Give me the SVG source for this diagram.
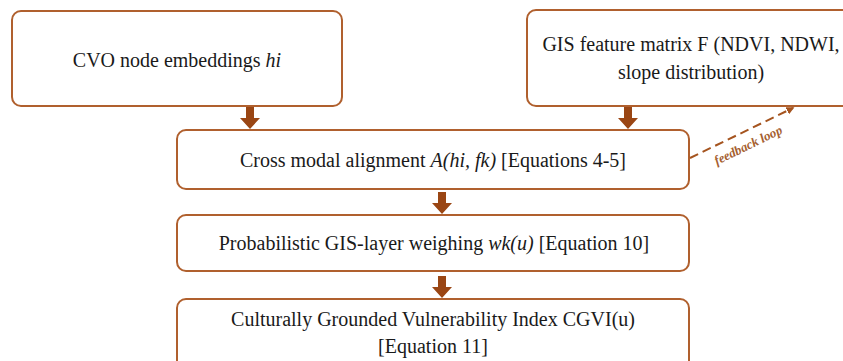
<svg xmlns="http://www.w3.org/2000/svg" width="843" height="361" viewBox="0 0 843 361">
  <style>
    .box { fill: #ffffff; stroke: #b0602e; stroke-width: 2; }
    .lbl { font-family: 'Liberation Serif', 'Times New Roman', serif; font-size: 20px; fill: #1a1a1a; text-anchor: middle; }
    .it { font-style: italic; }
    .flow { fill: #9a4614; }
    .fb { fill: none; stroke: #a5541f; stroke-width: 2; stroke-dasharray: 9 5; }
    .fbtxt { font-family: 'Liberation Serif', 'Times New Roman', serif; font-size: 13px; font-style: italic; font-weight: bold; fill: #a5602f; text-anchor: middle; }
  </style>
  <defs>
    <!-- block arrow pointing down, tip at origin -->
    <path id="down" d="M -4 -22 H 4 V -11 H 10 L 0 0 L -10 -11 H -4 Z"/>
    <marker id="tip" viewBox="0 0 10 10" refX="8" refY="5" markerWidth="4" markerHeight="4" orient="auto" markerUnits="strokeWidth">
      <path d="M 0 0 L 10 5 L 0 10 Z" fill="#a5541f"/>
    </marker>
  </defs>
  <rect width="843" height="361" fill="#ffffff"/>

  <g id="cvo">
    <rect class="box" x="12" y="11" width="330" height="95" rx="9"/>
    <text class="lbl" x="177" y="67">CVO node embeddings <tspan class="it">hi</tspan></text>
  </g>

  <g id="gis">
    <rect class="box" x="527" y="10" width="340" height="96" rx="9"/>
    <text class="lbl" x="691" y="51">GIS feature matrix F (NDVI, NDWI,</text>
    <text class="lbl" x="691" y="79">slope distribution)</text>
  </g>

  <g id="align">
    <rect class="box" x="177" y="130" width="512" height="59" rx="9"/>
    <text class="lbl" x="433" y="167">Cross modal alignment <tspan class="it">A(hi, fk)</tspan> [Equations 4-5]</text>
  </g>

  <g id="weigh">
    <rect class="box" x="177" y="215" width="512" height="56" rx="9"/>
    <text class="lbl" x="434" y="250">Probabilistic GIS-layer weighing <tspan class="it">wk(u)</tspan> [Equation 10]</text>
  </g>

  <g id="cgvi">
    <rect class="box" x="177" y="299" width="512" height="72" rx="9"/>
    <text class="lbl" x="433" y="326">Culturally Grounded Vulnerability Index CGVI(u)</text>
    <text class="lbl" x="433" y="353">[Equation 11]</text>
  </g>

  <g id="connectors">
    <use href="#down" class="flow" x="250" y="129"/>
    <use href="#down" class="flow" x="628" y="129"/>
    <use href="#down" class="flow" x="442" y="214"/>
    <use href="#down" class="flow" x="442" y="298"/>
    <path class="fb" d="M 690 158 L 793 108" marker-end="url(#tip)"/>
    <text class="fbtxt" transform="translate(750 149) rotate(-26)">feedback loop</text>
  </g>
</svg>
